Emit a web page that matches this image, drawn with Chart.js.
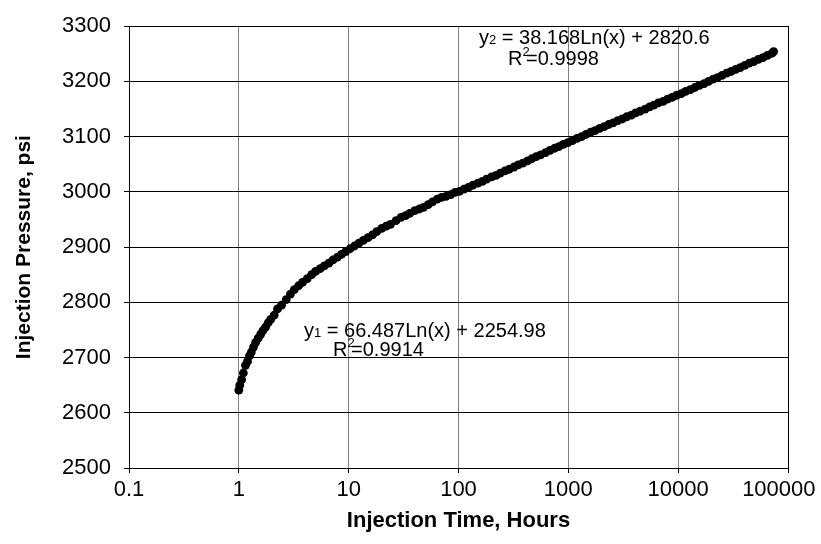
<!DOCTYPE html>
<html>
<head>
<meta charset="utf-8">
<script src="https://cdn.jsdelivr.net/npm/chart.js@4.4.1/dist/chart.umd.min.js"></script>
<style>
  html, body { margin: 0; padding: 0; background: #fff; }
</style>
</head>
<body>
<canvas id="pressureChart" width="821" height="544"></canvas>
<script>
// Injection time (hours)
const timeHours = [
  1.0, 1.02, 1.06, 1.1, 1.15, 1.2, 1.25, 1.3, 1.36, 1.42, 1.5, 1.58, 1.66, 1.75, 1.85, 1.95,
  2.1, 2.25, 2.45, 2.7, 2.95, 3.2, 3.5, 3.8, 4.2, 4.6, 5.0, 5.5, 6.0, 6.6, 7.2, 7.9, 8.6, 9.4,
  10.3, 11.3, 12.4, 13.6, 15, 16.5, 18, 20, 22, 24, 27, 30, 33, 36, 40, 44, 48, 53, 58, 64, 70,
  77, 85, 93, 102, 112, 123, 135, 150, 165, 180, 200, 220, 240, 265, 290, 320, 350, 385, 425,
  465, 510, 560, 620, 680, 750, 820, 900, 990, 1090, 1200, 1320, 1450, 1600, 1750, 1930, 2120,
  2330, 2560, 2820, 3100, 3400, 3750, 4100, 4500, 5000, 5500, 6000, 6600, 7300, 8000, 8800,
  9700, 10700, 11700, 12900, 14200, 15600, 17200, 18900, 20800, 22800, 25100, 27600, 30400,
  33400, 36700, 40400, 44400, 48800, 53700, 59100, 65000, 71500, 74000
];

// Injection pressure (psi) for each time above
const pressurePsi = [
  2641, 2650, 2660, 2672, 2686, 2693, 2703, 2710, 2719, 2727, 2735, 2742, 2749, 2755, 2763, 2769,
  2777, 2788, 2795, 2805, 2815, 2823, 2830, 2836, 2843, 2850, 2856, 2861, 2866, 2871, 2877, 2882, 2887, 2892,
  2897, 2902, 2907, 2912, 2917, 2922, 2928, 2934, 2938, 2941, 2948, 2954, 2957, 2961, 2966, 2969, 2972, 2977, 2982, 2987, 2990,
  2992, 2995, 2999, 3001, 3005, 3008, 3012, 3016, 3019, 3023, 3027, 3030, 3034, 3038, 3041, 3045, 3049, 3052, 3056,
  3060, 3064, 3067, 3071, 3075, 3079, 3082, 3086, 3089, 3093, 3097, 3100, 3104, 3108, 3111, 3115, 3118,
  3122, 3125, 3129, 3132, 3136, 3139, 3143, 3146, 3150, 3154, 3157, 3161, 3164, 3168, 3171,
  3175, 3178, 3182, 3185, 3189, 3193, 3196, 3200, 3204, 3207, 3211, 3215, 3218,
  3222, 3225, 3229, 3233, 3236, 3240, 3243, 3247, 3251, 3254
];

// Axis ticks
const xTicks = [0.1, 1, 10, 100, 1000, 10000, 100000];
const xTickLabels = ['0.1', '1', '10', '100', '1000', '10000', '100000'];
const yTicks = [2500, 2600, 2700, 2800, 2900, 3000, 3100, 3200, 3300];

// Trend line captions
const fitLabels = [
  { sub: '2', eq: ' = 38.168Ln(x) + 2820.6', r2: '=0.9998', x: 479, y: 44, rx: 508, ry: 65 },
  { sub: '1', eq: ' = 66.487Ln(x) + 2254.98', r2: '=0.9914', x: 304, y: 337, rx: 333, ry: 356 }
];

const FONT = "'Liberation Sans', Arial, sans-serif";

// draws the equation captions and the frame round the plot
const captionPlugin = {
    id: 'captions',
    afterDraw(chart) {
        const ctx = chart.ctx;
        const area = chart.chartArea;
        ctx.save();
        ctx.strokeStyle = '#000';
        ctx.lineWidth = 1;
        ctx.strokeRect(Math.round(area.left) + 0.5, Math.round(area.top) + 0.5,
            Math.round(area.right - area.left), Math.round(area.bottom - area.top));

        ctx.fillStyle = '#000';
        ctx.textBaseline = 'alphabetic';
        ctx.textAlign = 'left';
        fitLabels.forEach(f => {
            let x = f.x;
            ctx.font = '20px ' + FONT;
            ctx.fillText('y', x, f.y);
            x += ctx.measureText('y').width;
            ctx.font = '13px ' + FONT;
            ctx.fillText(f.sub, x, f.y);
            x += ctx.measureText(f.sub).width;
            ctx.font = '20px ' + FONT;
            ctx.fillText(f.eq, x, f.y);

            let rx = f.rx;
            ctx.fillText('R', rx, f.ry);
            rx += ctx.measureText('R').width;
            ctx.font = '13px ' + FONT;
            ctx.fillText('2', rx, f.ry - 9);
            rx += ctx.measureText('2').width * 0.5;
            ctx.font = '20px ' + FONT;
            ctx.fillText(f.r2, rx, f.ry);
        });
        ctx.restore();
    }
};

function buildChart() {
    const points = timeHours.map((t, i) => ({ x: t, y: pressurePsi[i] }));
    const ctx = document.getElementById('pressureChart').getContext('2d');

    new Chart(ctx, {
        type: 'scatter',
        data: {
            datasets: [{
                data: points,
                backgroundColor: '#000',
                borderColor: '#000',
                pointRadius: 4.4,
                pointBorderWidth: 0
            }]
        },
        options: {
            responsive: false,
            animation: false,
            layout: { padding: { top: 15, right: 33, left: 0, bottom: 0 } },
            plugins: {
                legend: { display: false },
                tooltip: { enabled: false }
            },
            scales: {
                x: {
                    type: 'logarithmic',
                    min: 0.1,
                    max: 100000,
                    afterBuildTicks: scale => {
                        scale.ticks = xTicks.map(v => ({ value: v }));
                    },
                    afterFit: scale => {
                        scale.height = 76;
                        scale.paddingLeft = 0;
                        scale.paddingRight = 0;
                    },
                    ticks: {
                        autoSkip: false,
                        maxRotation: 0,
                        padding: 4,
                        color: '#000',
                        font: { family: FONT, size: 22 },
                        // last label is nudged left so it stays inside the canvas
                        callback: (v, i) => i === xTickLabels.length - 1 ? xTickLabels[i] + '   ' : xTickLabels[i]
                    },
                    grid: { color: '#808080', lineWidth: 1, tickLength: 5, tickColor: '#000' },
                    border: { color: '#000' },
                    title: {
                        display: true,
                        text: 'Injection Time, Hours',
                        color: '#000',
                        font: { family: FONT, size: 22, weight: 'bold' },
                        padding: { top: 0, bottom: 10 }
                    }
                },
                y: {
                    min: 2500,
                    max: 3300,
                    afterBuildTicks: scale => {
                        scale.ticks = yTicks.map(v => ({ value: v }));
                    },
                    afterFit: scale => { scale.width = 129; },
                    ticks: {
                        padding: 13,
                        color: '#000',
                        font: { family: FONT, size: 22 },
                        callback: v => String(v)
                    },
                    grid: { color: '#000', lineWidth: 1, tickLength: 5, tickColor: '#000' },
                    border: { color: '#000' },
                    title: {
                        display: true,
                        text: 'Injection Pressure, psi',
                        color: '#000',
                        font: { family: FONT, size: 21, weight: 'bold' },
                        padding: { top: 12, bottom: 0 }
                    }
                }
            }
        },
        plugins: [captionPlugin]
    });
}

buildChart();
</script>
</body>
</html>
